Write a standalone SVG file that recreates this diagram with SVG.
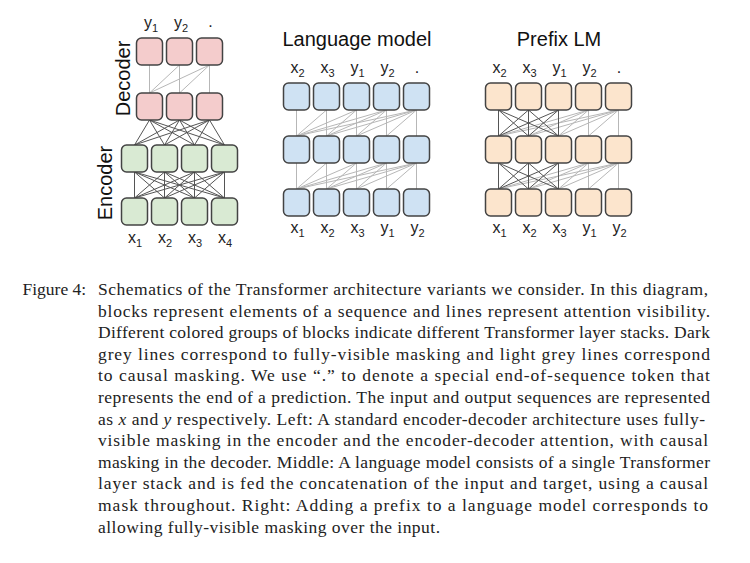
<svg xmlns="http://www.w3.org/2000/svg" width="750" height="563" viewBox="0 0 750 563">
<style>
.box{stroke:#434343;stroke-width:1.5}
.dec{fill:#f4cccc}.enc{fill:#d9ead3}.lm{fill:#cfe2f3}.pre{fill:#fce5cd}
.dk{stroke:#555;stroke-width:1}
.lt{stroke:#b7b7b7;stroke-width:1}
.lbl{font-family:"Liberation Sans",Arial,sans-serif;font-size:16px;fill:#222;text-anchor:middle}
.sub{font-size:11px}
.ttl{font-family:"Liberation Sans",Arial,sans-serif;font-size:20px;fill:#111;text-anchor:middle}
.cap{font-family:"Liberation Serif","Times New Roman",serif;font-size:17.5px;fill:#222}
</style>
<rect width="750" height="563" fill="#fff"/>

<g id="connectors">
<g class="lt">
<line x1="149.5" y1="65" x2="149.5" y2="93"/>
<line x1="179.5" y1="65" x2="149.5" y2="93"/>
<line x1="179.5" y1="65" x2="179.5" y2="93"/>
<line x1="209.5" y1="65" x2="149.5" y2="93"/>
<line x1="209.5" y1="65" x2="179.5" y2="93"/>
<line x1="209.5" y1="65" x2="209.5" y2="93"/>
</g>
<g class="dk">
<line x1="149.5" y1="120" x2="134.5" y2="145"/><line x1="149.5" y1="120" x2="164.5" y2="145"/><line x1="149.5" y1="120" x2="194.5" y2="145"/><line x1="149.5" y1="120" x2="224.5" y2="145"/>
<line x1="179.5" y1="120" x2="134.5" y2="145"/><line x1="179.5" y1="120" x2="164.5" y2="145"/><line x1="179.5" y1="120" x2="194.5" y2="145"/><line x1="179.5" y1="120" x2="224.5" y2="145"/>
<line x1="209.5" y1="120" x2="134.5" y2="145"/><line x1="209.5" y1="120" x2="164.5" y2="145"/><line x1="209.5" y1="120" x2="194.5" y2="145"/><line x1="209.5" y1="120" x2="224.5" y2="145"/>
<line x1="134.5" y1="172" x2="134.5" y2="198"/><line x1="134.5" y1="172" x2="164.5" y2="198"/><line x1="134.5" y1="172" x2="194.5" y2="198"/><line x1="134.5" y1="172" x2="224.5" y2="198"/>
<line x1="164.5" y1="172" x2="134.5" y2="198"/><line x1="164.5" y1="172" x2="164.5" y2="198"/><line x1="164.5" y1="172" x2="194.5" y2="198"/><line x1="164.5" y1="172" x2="224.5" y2="198"/>
<line x1="194.5" y1="172" x2="134.5" y2="198"/><line x1="194.5" y1="172" x2="164.5" y2="198"/><line x1="194.5" y1="172" x2="194.5" y2="198"/><line x1="194.5" y1="172" x2="224.5" y2="198"/>
<line x1="224.5" y1="172" x2="134.5" y2="198"/><line x1="224.5" y1="172" x2="164.5" y2="198"/><line x1="224.5" y1="172" x2="194.5" y2="198"/><line x1="224.5" y1="172" x2="224.5" y2="198"/>
</g>
<g class="lt">
<line x1="296.5" y1="110" x2="296.5" y2="136"/>
<line x1="326.5" y1="110" x2="296.5" y2="136"/><line x1="326.5" y1="110" x2="326.5" y2="136"/>
<line x1="356.5" y1="110" x2="296.5" y2="136"/><line x1="356.5" y1="110" x2="326.5" y2="136"/><line x1="356.5" y1="110" x2="356.5" y2="136"/>
<line x1="386.5" y1="110" x2="296.5" y2="136"/><line x1="386.5" y1="110" x2="326.5" y2="136"/><line x1="386.5" y1="110" x2="356.5" y2="136"/><line x1="386.5" y1="110" x2="386.5" y2="136"/>
<line x1="416.5" y1="110" x2="296.5" y2="136"/><line x1="416.5" y1="110" x2="326.5" y2="136"/><line x1="416.5" y1="110" x2="356.5" y2="136"/><line x1="416.5" y1="110" x2="386.5" y2="136"/><line x1="416.5" y1="110" x2="416.5" y2="136"/>
<line x1="296.5" y1="163" x2="296.5" y2="189"/>
<line x1="326.5" y1="163" x2="296.5" y2="189"/><line x1="326.5" y1="163" x2="326.5" y2="189"/>
<line x1="356.5" y1="163" x2="296.5" y2="189"/><line x1="356.5" y1="163" x2="326.5" y2="189"/><line x1="356.5" y1="163" x2="356.5" y2="189"/>
<line x1="386.5" y1="163" x2="296.5" y2="189"/><line x1="386.5" y1="163" x2="326.5" y2="189"/><line x1="386.5" y1="163" x2="356.5" y2="189"/><line x1="386.5" y1="163" x2="386.5" y2="189"/>
<line x1="416.5" y1="163" x2="296.5" y2="189"/><line x1="416.5" y1="163" x2="326.5" y2="189"/><line x1="416.5" y1="163" x2="356.5" y2="189"/><line x1="416.5" y1="163" x2="386.5" y2="189"/><line x1="416.5" y1="163" x2="416.5" y2="189"/>
<line x1="588.5" y1="110" x2="498.5" y2="136"/><line x1="588.5" y1="110" x2="528.5" y2="136"/><line x1="588.5" y1="110" x2="558.5" y2="136"/><line x1="588.5" y1="110" x2="588.5" y2="136"/>
<line x1="618.5" y1="110" x2="498.5" y2="136"/><line x1="618.5" y1="110" x2="528.5" y2="136"/><line x1="618.5" y1="110" x2="558.5" y2="136"/><line x1="618.5" y1="110" x2="588.5" y2="136"/><line x1="618.5" y1="110" x2="618.5" y2="136"/>
<line x1="588.5" y1="163" x2="498.5" y2="189"/><line x1="588.5" y1="163" x2="528.5" y2="189"/><line x1="588.5" y1="163" x2="558.5" y2="189"/><line x1="588.5" y1="163" x2="588.5" y2="189"/>
<line x1="618.5" y1="163" x2="498.5" y2="189"/><line x1="618.5" y1="163" x2="528.5" y2="189"/><line x1="618.5" y1="163" x2="558.5" y2="189"/><line x1="618.5" y1="163" x2="588.5" y2="189"/><line x1="618.5" y1="163" x2="618.5" y2="189"/>
</g>
<g class="dk">
<line x1="498.5" y1="110" x2="498.5" y2="136"/><line x1="498.5" y1="110" x2="528.5" y2="136"/><line x1="498.5" y1="110" x2="558.5" y2="136"/>
<line x1="528.5" y1="110" x2="498.5" y2="136"/><line x1="528.5" y1="110" x2="528.5" y2="136"/><line x1="528.5" y1="110" x2="558.5" y2="136"/>
<line x1="558.5" y1="110" x2="498.5" y2="136"/><line x1="558.5" y1="110" x2="528.5" y2="136"/><line x1="558.5" y1="110" x2="558.5" y2="136"/>
<line x1="498.5" y1="163" x2="498.5" y2="189"/><line x1="498.5" y1="163" x2="528.5" y2="189"/><line x1="498.5" y1="163" x2="558.5" y2="189"/>
<line x1="528.5" y1="163" x2="498.5" y2="189"/><line x1="528.5" y1="163" x2="528.5" y2="189"/><line x1="528.5" y1="163" x2="558.5" y2="189"/>
<line x1="558.5" y1="163" x2="498.5" y2="189"/><line x1="558.5" y1="163" x2="528.5" y2="189"/><line x1="558.5" y1="163" x2="558.5" y2="189"/>
</g>
</g>

<g id="decoder-top">
<rect class="box dec" x="136.5" y="38" width="26" height="27" rx="5"/>
<rect class="box dec" x="166.5" y="38" width="26" height="27" rx="5"/>
<rect class="box dec" x="196.5" y="38" width="26" height="27" rx="5"/>
</g>
<g id="decoder-bottom">
<rect class="box dec" x="136.5" y="93" width="26" height="27" rx="5"/>
<rect class="box dec" x="166.5" y="93" width="26" height="27" rx="5"/>
<rect class="box dec" x="196.5" y="93" width="26" height="27" rx="5"/>
</g>
<g id="encoder-top">
<rect class="box enc" x="121.5" y="145" width="26" height="27" rx="5"/>
<rect class="box enc" x="151.5" y="145" width="26" height="27" rx="5"/>
<rect class="box enc" x="181.5" y="145" width="26" height="27" rx="5"/>
<rect class="box enc" x="211.5" y="145" width="26" height="27" rx="5"/>
</g>
<g id="encoder-bottom">
<rect class="box enc" x="121.5" y="198" width="26" height="27" rx="5"/>
<rect class="box enc" x="151.5" y="198" width="26" height="27" rx="5"/>
<rect class="box enc" x="181.5" y="198" width="26" height="27" rx="5"/>
<rect class="box enc" x="211.5" y="198" width="26" height="27" rx="5"/>
</g>
<g id="encdec-labels">
<text class="ttl" transform="translate(130,78.5) rotate(-90)">Decoder</text>
<text class="ttl" transform="translate(112,183) rotate(-90)">Encoder</text>
<text class="lbl" x="151" y="28">y<tspan class="sub" dy="4">1</tspan></text>
<text class="lbl" x="181" y="28">y<tspan class="sub" dy="4">2</tspan></text>
<text class="lbl" x="210.5" y="27">.</text>
<text class="lbl" x="135" y="243">x<tspan class="sub" dy="4">1</tspan></text>
<text class="lbl" x="165" y="243">x<tspan class="sub" dy="4">2</tspan></text>
<text class="lbl" x="195" y="243">x<tspan class="sub" dy="4">3</tspan></text>
<text class="lbl" x="225" y="243">x<tspan class="sub" dy="4">4</tspan></text>
</g>

<g id="lm-top">
<rect class="box lm" x="283.5" y="83" width="26" height="27" rx="5"/>
<rect class="box lm" x="313.5" y="83" width="26" height="27" rx="5"/>
<rect class="box lm" x="343.5" y="83" width="26" height="27" rx="5"/>
<rect class="box lm" x="373.5" y="83" width="26" height="27" rx="5"/>
<rect class="box lm" x="403.5" y="83" width="26" height="27" rx="5"/>
</g>
<g id="lm-middle">
<rect class="box lm" x="283.5" y="136" width="26" height="27" rx="5"/>
<rect class="box lm" x="313.5" y="136" width="26" height="27" rx="5"/>
<rect class="box lm" x="343.5" y="136" width="26" height="27" rx="5"/>
<rect class="box lm" x="373.5" y="136" width="26" height="27" rx="5"/>
<rect class="box lm" x="403.5" y="136" width="26" height="27" rx="5"/>
</g>
<g id="lm-bottom">
<rect class="box lm" x="283.5" y="189" width="26" height="27" rx="5"/>
<rect class="box lm" x="313.5" y="189" width="26" height="27" rx="5"/>
<rect class="box lm" x="343.5" y="189" width="26" height="27" rx="5"/>
<rect class="box lm" x="373.5" y="189" width="26" height="27" rx="5"/>
<rect class="box lm" x="403.5" y="189" width="26" height="27" rx="5"/>
</g>
<g id="lm-labels">
<text class="ttl" x="357" y="46">Language model</text>
<text class="lbl" x="297.5" y="73">x<tspan class="sub" dy="4">2</tspan></text>
<text class="lbl" x="327.5" y="73">x<tspan class="sub" dy="4">3</tspan></text>
<text class="lbl" x="357.5" y="73">y<tspan class="sub" dy="4">1</tspan></text>
<text class="lbl" x="387.5" y="73">y<tspan class="sub" dy="4">2</tspan></text>
<text class="lbl" x="417" y="73">.</text>
<text class="lbl" x="297.5" y="233">x<tspan class="sub" dy="4">1</tspan></text>
<text class="lbl" x="327.5" y="233">x<tspan class="sub" dy="4">2</tspan></text>
<text class="lbl" x="357.5" y="233">x<tspan class="sub" dy="4">3</tspan></text>
<text class="lbl" x="387.5" y="233">y<tspan class="sub" dy="4">1</tspan></text>
<text class="lbl" x="417.5" y="233">y<tspan class="sub" dy="4">2</tspan></text>
</g>

<g id="prefix-top">
<rect class="box pre" x="485.5" y="83" width="26" height="27" rx="5"/>
<rect class="box pre" x="515.5" y="83" width="26" height="27" rx="5"/>
<rect class="box pre" x="545.5" y="83" width="26" height="27" rx="5"/>
<rect class="box pre" x="575.5" y="83" width="26" height="27" rx="5"/>
<rect class="box pre" x="605.5" y="83" width="26" height="27" rx="5"/>
</g>
<g id="prefix-middle">
<rect class="box pre" x="485.5" y="136" width="26" height="27" rx="5"/>
<rect class="box pre" x="515.5" y="136" width="26" height="27" rx="5"/>
<rect class="box pre" x="545.5" y="136" width="26" height="27" rx="5"/>
<rect class="box pre" x="575.5" y="136" width="26" height="27" rx="5"/>
<rect class="box pre" x="605.5" y="136" width="26" height="27" rx="5"/>
</g>
<g id="prefix-bottom">
<rect class="box pre" x="485.5" y="189" width="26" height="27" rx="5"/>
<rect class="box pre" x="515.5" y="189" width="26" height="27" rx="5"/>
<rect class="box pre" x="545.5" y="189" width="26" height="27" rx="5"/>
<rect class="box pre" x="575.5" y="189" width="26" height="27" rx="5"/>
<rect class="box pre" x="605.5" y="189" width="26" height="27" rx="5"/>
</g>
<g id="prefix-labels">
<text class="ttl" x="559" y="46">Prefix LM</text>
<text class="lbl" x="499.5" y="73">x<tspan class="sub" dy="4">2</tspan></text>
<text class="lbl" x="529.5" y="73">x<tspan class="sub" dy="4">3</tspan></text>
<text class="lbl" x="559.5" y="73">y<tspan class="sub" dy="4">1</tspan></text>
<text class="lbl" x="589.5" y="73">y<tspan class="sub" dy="4">2</tspan></text>
<text class="lbl" x="619" y="73">.</text>
<text class="lbl" x="499.5" y="233">x<tspan class="sub" dy="4">1</tspan></text>
<text class="lbl" x="529.5" y="233">x<tspan class="sub" dy="4">2</tspan></text>
<text class="lbl" x="559.5" y="233">x<tspan class="sub" dy="4">3</tspan></text>
<text class="lbl" x="589.5" y="233">y<tspan class="sub" dy="4">1</tspan></text>
<text class="lbl" x="619.5" y="233">y<tspan class="sub" dy="4">2</tspan></text>
</g>

<g id="caption" class="cap">
<text x="22.5" y="295">Figure 4:</text>
<text x="98" y="295" textLength="610" lengthAdjust="spacing">Schematics of the Transformer architecture variants we consider. In this diagram,</text>
<text x="98" y="316.6" textLength="612" lengthAdjust="spacing">blocks represent elements of a sequence and lines represent attention visibility.</text>
<text x="98" y="338.2" textLength="612" lengthAdjust="spacing">Different colored groups of blocks indicate different Transformer layer stacks. Dark</text>
<text x="98" y="359.8" textLength="612" lengthAdjust="spacing">grey lines correspond to fully-visible masking and light grey lines correspond</text>
<text x="98" y="381.4" textLength="612" lengthAdjust="spacing">to causal masking. We use “.” to denote a special end-of-sequence token that</text>
<text x="98" y="403" textLength="612" lengthAdjust="spacing">represents the end of a prediction. The input and output sequences are represented</text>
<text x="98" y="424.6" textLength="607" lengthAdjust="spacing">as <tspan font-style="italic">x</tspan> and <tspan font-style="italic">y</tspan> respectively. Left: A standard encoder-decoder architecture uses fully-</text>
<text x="98" y="446.2" textLength="610" lengthAdjust="spacing">visible masking in the encoder and the encoder-decoder attention, with causal</text>
<text x="98" y="467.8" textLength="612" lengthAdjust="spacing">masking in the decoder. Middle: A language model consists of a single Transformer</text>
<text x="98" y="489.4" textLength="610" lengthAdjust="spacing">layer stack and is fed the concatenation of the input and target, using a causal</text>
<text x="98" y="511" textLength="610" lengthAdjust="spacing">mask throughout. Right: Adding a prefix to a language model corresponds to</text>
<text x="98" y="532.6" textLength="342" lengthAdjust="spacing">allowing fully-visible masking over the input.</text>
</g>
</svg>
